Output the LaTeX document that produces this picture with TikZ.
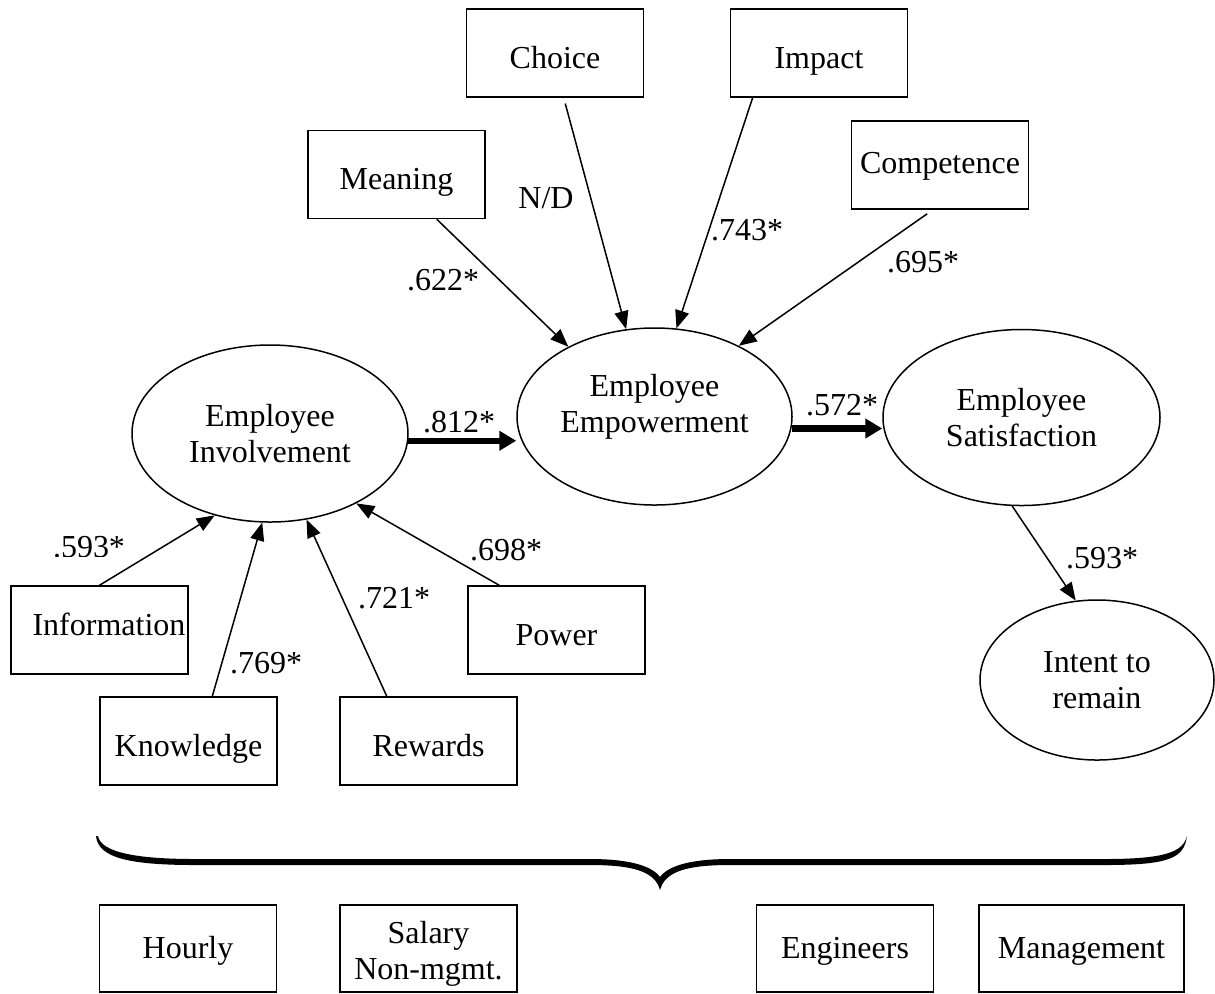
\documentclass[tikz,border=0pt]{standalone}
\usepackage{fontspec}
\setmainfont{Liberation Serif}
\usetikzlibrary{shapes.geometric,arrows.meta,calc}
\begin{document}
\begin{tikzpicture}[x=0.5pt,y=-0.5pt,
  every node/.style={font=\fontsize{16}{18}\selectfont},
  box/.style={draw, line width=0.75pt, rectangle, inner sep=0pt,
    minimum width=88.5pt, minimum height=44pt, align=center,
    text height=15pt, text depth=0pt},
  group/.style={box, minimum height=43.5pt, text height=9.5pt},
  latent/.style={draw, line width=0.75pt, ellipse, inner sep=0pt, align=center},
  coef/.style={inner sep=0pt},
  arr/.style={line width=0.75pt, -{Triangle[length=9pt,width=7pt]}},
  bigarr/.style={line width=3.25pt, -{Triangle[length=8.5pt,width=9.5pt]}},
]
\useasboundingbox (0,0) rectangle (1215,993);

% empowerment dimensions
\node[box] (choice)  at (555,53)    {Choice};
\node[box] (impact)  at (819,53)    {Impact};
\node[box] (meaning) at (396.5,174.5) {Meaning};
\node[box, text height=8pt] (comp) at (940,165) {Competence};

% involvement dimensions
\node[box, text height=5pt] (info) at (99.5,630) {\hspace*{9.5pt}Information};
\node[box] (know)    at (188.5,741) {Knowledge};
\node[box] (reward)  at (428.5,741) {Rewards};
\node[box] (power)   at (556.5,630) {Power};

% latent constructs
\node[latent, minimum width=138pt, minimum height=88.5pt] (ei) at (270,433.5) {Employee\\Involvement};
\node[latent, minimum width=137.5pt, minimum height=88.5pt] (ee) at (654.5,416.5) {};
\node[align=center, inner sep=0pt] (eetext) at (654.5,406.5) {Employee\\Empowerment};
\node[latent, minimum width=138.5pt, minimum height=88pt] (es) at (1021.5,417.5) {Employee\\Satisfaction};
\node[latent, minimum width=117pt, minimum height=80pt] (intent) at (1097,680) {Intent to\\remain};

% employee groups
\node[group] (hourly) at (188,948.5) {Hourly};
\node[group, text height=, text depth=] (salary) at (428.5,948.5) {\rule{0pt}{16.5pt}Salary\\Non-mgmt.};
\node[group] (eng)    at (845,948.5) {Engineers};
\node[group, minimum width=102.5pt] (mgmt) at (1081.5,948.5) {Management};

% paths into empowerment
\draw[arr] (meaning.-48) -- (ee.141);
\draw[arr, shorten <=3pt] (choice.-79) -- (ee.108);
\draw[arr] (impact.214) -- (ee.76);
\draw[arr, shorten <=3.5pt] (comp.261) -- (ee.40);

% structural paths
\draw[bigarr] (ei.-3) -- (ee.west |- ei.-3);
\draw[bigarr] (ee.-5) -- (es.west |- ee.-5);
\draw[arr] (es.264) -- (intent.105);

% paths into involvement
\draw[arr] (info.north) -- (ei.236);
\draw[arr] (know.62) -- (ei.265);
\draw[arr] (reward.133) -- (ei.293);
\draw[arr] (power.142) -- (ei.321);

% coefficients
\node[coef] (cnd)  at (546,198) {N/D};
\node[coef] (c622) at (443,280) {.622*};
\node[coef] (c743) at (747,230) {.743*};
\node[coef] (c695) at (923,262) {.695*};
\node[coef] (c812) at (459,422) {.812*};
\node[coef] (c572) at (842,405) {.572*};
\begin{scope}
  \clip (0,520) rectangle (200,556.5);
  \node[coef] (c593a) at (89,547) {.593*};
\end{scope}
\node[coef] (c769) at (266,663) {.769*};
\node[coef] (c721) at (394,598) {.721*};
\node[coef] (c698) at (506,550) {.698*};
\node[coef] (c593b) at (1102,558) {.593*};

% grouping brace
\fill (96,836) .. controls (98,858) and (130,865) .. (195,865)
  -- (590,865) .. controls (635,865) and (655,872) .. (660,890)
  .. controls (665,872) and (685,865) .. (730,865)
  -- (1105,865) .. controls (1170,865) and (1184,858) .. (1187,836)
  .. controls (1183,852) and (1165,859) .. (1105,859)
  -- (730,859) .. controls (690,859) and (668,866) .. (660,877)
  .. controls (652,866) and (630,859) .. (590,859)
  -- (195,859) .. controls (135,859) and (101,852) .. (98,836) -- cycle;
\end{tikzpicture}
\end{document}
